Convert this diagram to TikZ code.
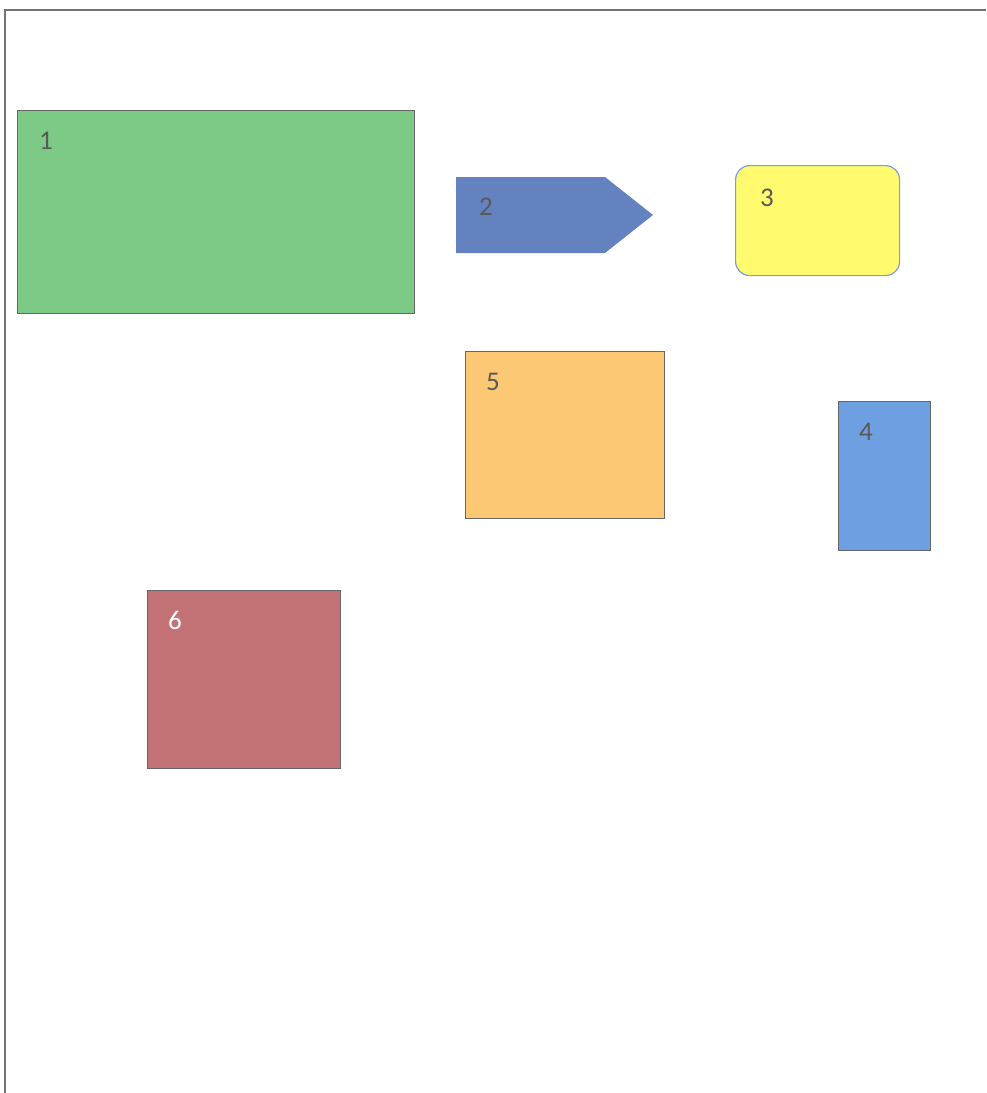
\documentclass[tikz,border=0pt]{standalone}
\usepackage{fontspec}
\setmainfont{Carlito}
\definecolor{cgreen}{RGB}{125,202,135}
\definecolor{cblue2}{RGB}{100,130,192}
\definecolor{cyellow}{RGB}{255,250,110}
\definecolor{cedge3}{RGB}{120,160,220}
\definecolor{cblue4}{RGB}{110,160,225}
\definecolor{corange}{RGB}{252,200,115}
\definecolor{cred}{RGB}{195,115,118}
\begin{document}
\begin{tikzpicture}[x=1pt,y=-1pt,
  box/.style={draw=black!60, line width=1.2pt, inner sep=0pt, anchor=north west},
  lbl/.style={font=\fontsize{27}{30}\selectfont, text=black!65, anchor=center}]
\useasboundingbox (0,0) rectangle (986,1093);
\fill[white] (0,0) rectangle (986,1093);
\draw[black!55, line width=1.5pt] (5,1093) -- (5,10) -- (986,10);
% 1
\node[box, fill=cgreen, minimum width=397pt, minimum height=203pt] (b1) at (17,110) {};
\node[lbl] (l1) at (46,141) {1};
% 2
\fill[cblue2] (456,177) -- (605,177) -- (653,215) -- (605,253) -- (456,253) -- cycle;
\node[lbl] (l2) at (486,207) {2};
% 3
\node[draw=cedge3, line width=1.2pt, fill=cyellow, rounded corners=14pt, inner sep=0pt, anchor=north west, minimum width=164pt, minimum height=110pt] (b3) at (735,165) {};
\node[lbl] (l3) at (767,198) {3};
% 4
\node[box, fill=cblue4, minimum width=92pt, minimum height=149pt] (b4) at (838,401) {};
\node[lbl] (l4) at (866,432) {4};
% 5
\node[box, fill=corange, minimum width=199pt, minimum height=167pt] (b5) at (465,351) {};
\node[lbl] (l5) at (493,382) {5};
% 6
\node[box, fill=cred, minimum width=193pt, minimum height=178pt] (b6) at (147,590) {};
\node[lbl, text=white] (l6) at (175,620) {6};
\end{tikzpicture}
\end{document}
